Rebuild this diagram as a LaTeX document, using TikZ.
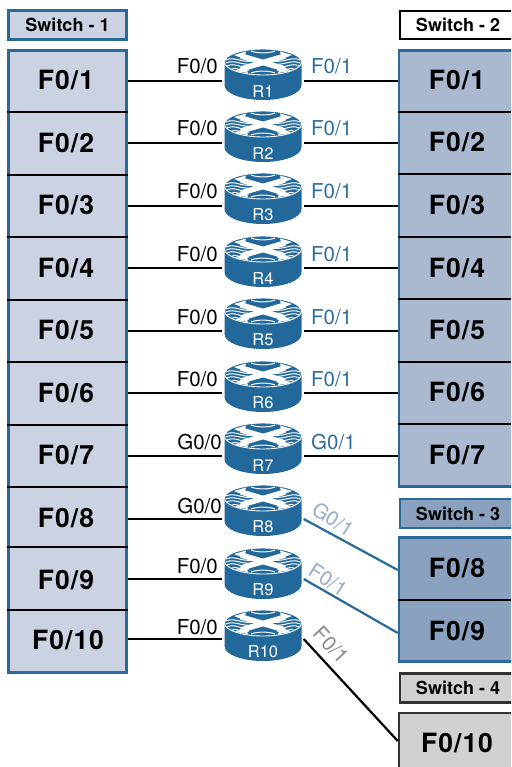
\documentclass[tikz,border=0pt]{standalone}
\usepackage{fontspec}
\setmainfont{TeX Gyre Heros}
\newfontfamily\portfont[LetterSpace=4.0,Kerning=Off]{TeX Gyre Heros}
\newfontfamily\ifacefont[Kerning=Off]{TeX Gyre Heros}
\definecolor{edgeblue}{HTML}{2A6A99}
\definecolor{routerblue}{HTML}{22689A}
\definecolor{panela}{HTML}{CBD3E2}
\definecolor{panelb}{HTML}{AAB8D0}
\definecolor{panelc}{HTML}{8AA2C0}
\definecolor{paneld}{HTML}{D0D1D3}
\definecolor{labelblue}{HTML}{2E6E9E}
\definecolor{labelpale}{HTML}{9AACCB}
\definecolor{labelgray}{HTML}{8C8C8C}
\tikzset{
  x=1pt,y=-1pt,
  panel/.style={draw=edgeblue,line width=2.5pt,rectangle,inner sep=0pt,minimum width=#1},
  title/.style={font=\bfseries\fontsize{18}{20}\selectfont,inner sep=0pt},
  port/.style={font=\portfont\bfseries\fontsize{26.5}{28}\selectfont,inner sep=0pt},
  iface/.style={font=\ifacefont\fontsize{20.5}{22}\selectfont,inner sep=0pt},
  rname/.style={font=\fontsize{16.5}{18}\selectfont,text=white,inner sep=0pt},
  sep/.style={line width=2.5pt,black},
  link/.style={line width=2.2pt,black},
  bluelink/.style={line width=2.2pt,edgeblue},
  anchorbox/.style={rectangle,minimum width=81pt,minimum height=1pt,inner sep=0pt},
  wave/.style={white,line width=1pt},
  xband/.style={white,line width=5.5pt},
  pics/router/.style={code={
    \fill[routerblue] (-38.5,0) -- (-38.5,23) .. controls (-38.5,32) and (-20,38) .. (0,38)
      .. controls (20,38) and (38.5,32) .. (38.5,23) -- (38.5,0) -- cycle;
    \fill[routerblue,draw=white,line width=.9pt] (0,0) ellipse [x radius=38.5,y radius=13];
    \draw[wave] (-37,-2) .. controls (-28,-6) and (-22,1) .. (-10,-1);
    \draw[wave] (-37,1) .. controls (-28,-3) and (-22,4) .. (-8,2);
    \draw[wave] (-36,4) .. controls (-28,0) and (-22,7) .. (-12,5);
    \draw[wave] (-32,7.5) .. controls (-28,4) and (-22,10) .. (-14,8);
    \draw[wave] (37,-2) .. controls (28,-6) and (22,1) .. (10,-1);
    \draw[wave] (37,1) .. controls (28,-3) and (22,4) .. (8,2);
    \draw[wave] (36,4) .. controls (28,0) and (22,7) .. (12,5);
    \draw[wave] (32,7.5) .. controls (28,4) and (22,10) .. (14,8);
    \draw[wave] (-12,-11) .. controls (-6,-8.5) and (6,-8.5) .. (12,-11);
    \draw[wave] (-12,11) .. controls (-6,8.5) and (6,8.5) .. (12,11);
    \draw[xband] (-22,-6) -- (22,7);
    \draw[xband] (22,-6) -- (-22,7);
    \fill[white] (-29,-7) -- (-17,-10.5) -- (-19,-3) -- cycle;
    \fill[white] (29,-7) -- (17,-10.5) -- (19,-3) -- cycle;
    \fill[white] (-28,9) -- (-15,11) -- (-18,4) -- cycle;
    \fill[white] (28,9) -- (15,11) -- (18,4) -- cycle;
  }},
}
\begin{document}
\begin{tikzpicture}
\useasboundingbox (0,0) rectangle (511,767);
\clip (0,0) rectangle (511,767);

% switch titles
\node[panel=118pt,minimum height=29pt,fill=panela,title] (swa) at (67.5,25) {Switch - 1};
\node[panel=116pt,minimum height=28pt,fill=white,draw=black,title] (swb) at (458,25) {Switch - 2};
\node[panel=116pt,minimum height=29pt,fill=panelc,title] (swc) at (458,513.5) {Switch - 3};
\node[panel=116pt,minimum height=29pt,fill=paneld,draw=black!80,title] (swd) at (458,688) {Switch - 4};

% port panels
\node[panel=118pt,minimum height=622pt,fill=panela] (pa) at (67.5,361.5) {};
\node[panel=118pt,minimum height=436pt,fill=panelb] (pb) at (458,268.5) {};
\node[panel=118pt,minimum height=124pt,fill=panelc] (pc) at (458,599.5) {};
\node[panel=118pt,minimum height=70pt,fill=paneld,draw=black!80] (pd) at (458,748) {};

% row separators
\foreach \yy in {112,175,237,300,362,425,487,547,610}
  \draw[sep] (7,\yy) -- (128,\yy);
\foreach \yy in {112,174,237,299,362,424}
  \draw[sep] (398,\yy) -- (511,\yy);
\draw[sep] (398,600) -- (511,600);

% left ports
\foreach \n/\yy in {1/80,2/143,3/205,4/268,5/330,6/393,7/455,8/518,9/580}
  \node[port] (la\n) at (66,\yy) {F0/\n};
\node[port] (la10) at (68,640) {F0/1\kern1pt 0};

% right ports
\foreach \n/\yy in {1/80,2/142,3/205,4/268,5/330,6/392,7/455,8/568,9/631}
  \node[port] (rb\n) at (457,\yy) {F0/\n};
\node[port] (rb10) at (457,743) {F0/1\kern1pt 0};

% routers
\foreach \n/\tp/\ly in {1/49/81,2/111/143,3/173/206,4/236/268,5/298/331,6/361/393,7/423/456,8/485/519,9/548/579,10/610/639}{
  \pic at (263,\tp+13) {router};
  \node[rname] (nm\n) at (263,\tp+42) {R\n};
  \node[anchorbox] (R\n) at (263,\ly) {};
}

% links
\foreach \n in {1,...,10}
  \draw[link] (R\n.west) -- (R\n.west -| pa.east);
\foreach \n in {1,...,7}
  \draw[link] (R\n.east) -- (R\n.east -| pb.west);
\draw[bluelink] (R8.east) -- ([yshift=-2pt]rb8.west -| pc.west);
\draw[bluelink] (R9.east) -- ([yshift=-2pt]rb9.west -| pc.west);
\draw[link] (R10.east) -- ([yshift=2pt]rb10.west -| pd.west);

% interface labels
\foreach \n/\ly in {1/74,2/136,3/199,4/261,5/324,6/386}{
  \node[iface,anchor=base east] (ia\n) at (218,\ly) {F0/0};
  \node[iface,anchor=base west,text=labelblue] (ib\n) at (311,\ly) {F0/1};
}
\node[iface,anchor=base east] (ia7) at (222,449) {G0/0};
\node[iface,anchor=base west,text=labelblue] (ib7) at (311,449) {G0/1};
\node[iface,anchor=base east] (ia8) at (222,513) {G0/0};
\node[iface,anchor=base east] (ia9) at (218,573) {F0/0};
\node[iface,anchor=base east] (ia10) at (218,634) {F0/0};
\node[iface,rotate=-33,text=labelpale] (ib8) at (333,519) {G0/1};
\node[iface,rotate=-33,text=labelpale] (ib9) at (328,580) {F0/1};
\node[iface,rotate=-47,text=labelgray] (ib10) at (331,645) {F0/1};
\end{tikzpicture}
\end{document}
